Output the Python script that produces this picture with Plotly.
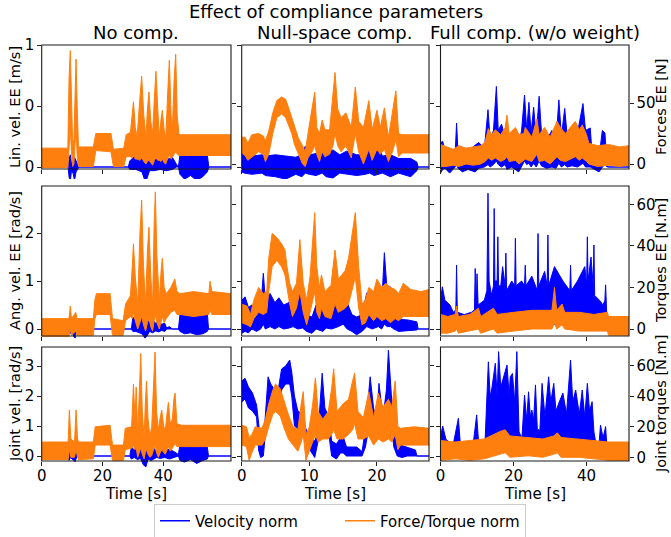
import plotly.graph_objects as go

# ---------------------------------------------------------------------------
# Data.  Every series is drawn as the band
# between a lower and an upper envelope (the signals are very noisy).
# blue  = velocity norm  (left axis),  orange = force/torque norm (right axis)
# ---------------------------------------------------------------------------

# ---- Row 1: Lin. vel. EE [m/s]  /  Forces EE [N] ----
lin_none_vel_t = [0, 8.7, 9.0, 9.4, 9.8, 10.3, 10.8, 11.3, 11.8, 12.2, 28.5, 29.0, 31.0, 33.0, 33.8, 34.3, 34.8, 35.5, 37.0, 39.0, 41.0, 43.0, 44.4, 45.0, 45.5, 47.0, 49.0, 51.0, 53.0, 54.5, 55.0, 62.3]
lin_none_vel_lo = [0, 0, -0.08, -0.12, -0.03, -0.05, -0.11, -0.04, -0.02, 0, 0, -0.02, -0.02, -0.04, -0.1, -0.12, -0.08, -0.03, -0.03, -0.02, -0.03, -0.02, 0, 0, -0.06, -0.1, -0.07, -0.11, -0.08, -0.04, 0, 0]
lin_none_vel_hi = [0, 0, 0.06, 0.1, 0.03, 0.04, 0.08, 0.05, 0.02, 0, 0, 0.05, 0.1, 0.06, 0.13, 0.12, 0.1, 0.07, 0.08, 0.09, 0.06, 0.08, 0.02, 0, 0.1, 0.12, 0.11, 0.12, 0.11, 0.1, 0, 0]
lin_none_frc_t = [0, 8.6, 9.0, 9.4, 9.8, 10.2, 10.6, 11.0, 11.3, 11.7, 12.1, 17.0, 17.8, 22.8, 23.6, 27.0, 27.8, 29.2, 29.8, 30.2, 30.8, 31.4, 32.2, 32.9, 33.6, 34.3, 34.8, 35.3, 35.9, 36.5, 37.1, 37.6, 38.2, 38.7, 39.2, 39.7, 40.3, 40.8, 41.5, 42.0, 42.6, 43.0, 43.6, 44.1, 44.6, 45.2, 62.3]
lin_none_frc_lo = [-3, -3, 8, 30, 10, -2, 0, 15, 30, 5, -2, -2, 11, 10, -2, -2, 6, 6, 5, 8, 4, 4, 3, 5, 2, 0, 2, 3, 1, -1, 3, 5, 3, 3, 2, 4, 1, 0, 4, 8, 4, 6, 8, 10, 8, 7, 7]
lin_none_frc_hi = [13, 13, 70, 93, 55, 14, 20, 70, 86, 45, 14, 14, 25, 25, 12, 13, 24, 26, 42, 51, 30, 22, 50, 72, 40, 22, 45, 59, 35, 25, 55, 76, 45, 22, 35, 44, 28, 20, 60, 85, 40, 28, 70, 90, 40, 24, 24]

lin_null_vel_t = [0.0, 0.4, 1.5, 3.0, 3.5, 5.0, 6.5, 8.0, 8.9, 9.4, 10.0, 11.0, 11.9, 12.5, 13.5, 14.5, 15.5, 17.0, 18.3, 18.9, 19.6, 20.2, 20.8, 22.0, 23.2, 25.0, 25.9, 26.1, 27.7]
lin_null_vel_lo = [-0.04, -0.05, -0.06, -0.05, -0.07, -0.08, -0.1, -0.06, -0.08, -0.05, -0.06, -0.07, -0.05, -0.08, -0.09, -0.05, -0.06, -0.07, -0.06, -0.05, -0.07, -0.06, -0.05, -0.08, -0.05, -0.08, -0.03, 0, 0]
lin_null_vel_hi = [0.15, 0.1, 0.09, 0.1, 0.09, 0.1, 0.09, 0.08, 0.1, 0.17, 0.1, 0.11, 0.18, 0.12, 0.14, 0.1, 0.13, 0.1, 0.1, 0.19, 0.1, 0.19, 0.09, 0.1, 0.07, 0.07, 0.04, 0, 0]
lin_null_frc_t = [0.0, 0.5, 0.9, 1.5, 2.5, 3.2, 3.5, 4.0, 4.6, 5.2, 5.9, 6.5, 7.0, 7.4, 7.8, 8.4, 9.0, 9.4, 9.8, 10.4, 10.8, 11.1, 11.5, 11.9, 12.3, 13.0, 13.5, 13.8, 14.2, 14.7, 15.4, 16.2, 16.8, 17.3, 18.0, 18.8, 19.3, 20.0, 20.5, 21.1, 21.7, 22.3, 22.8, 23.2, 23.7, 27.7]
lin_null_frc_lo = [9, 7, 3, 6, 10, 8, 2, 8, 25, 38, 41, 38, 31, 25, 16, 8, 0, -2, 5, 10, 15, 8, 2, 10, 6, 8, 15, 25, 15, 10, 15, 5, 25, 10, 0, 12, 3, 12, 8, 12, 2, 10, 20, 6, 9, 9]
lin_null_frc_hi = [22, 22, 17, 24, 25, 23, 19, 27, 42, 52, 55, 53, 45, 38, 32, 21, 15, 10, 25, 45, 59, 30, 25, 36, 28, 28, 55, 75, 45, 38, 42, 30, 63, 35, 30, 52, 28, 44, 30, 46, 22, 45, 60, 25, 24, 24]

lin_full_vel_t = [0, 0.6, 1.2, 2.5, 4.0, 4.4, 4.8, 6.0, 7.5, 9.5, 10.5, 12.0, 13.0, 13.6, 14.5, 15.3, 15.8, 16.7, 17.7, 18.2, 19.5, 21.4, 22.2, 23.0, 23.6, 24.2, 24.8, 25.5, 26.2, 27.0, 27.6, 29.0, 30.5, 31.6, 32.4, 33.1, 34.0, 34.7, 36.0, 37.5, 39.0, 39.7, 41.0, 41.5, 43.4, 44.3, 45.0, 45.6, 46.0, 51.6]
lin_full_vel_lo = [-0.05, -0.02, -0.01, -0.05, 0.0, 0.02, -0.01, -0.04, -0.02, -0.04, -0.01, 0.0, 0.02, 0.0, 0.02, 0.05, 0.02, 0.0, 0.02, -0.02, 0.0, -0.04, 0.0, 0.05, 0.02, 0.03, 0.0, 0.03, 0.0, 0.05, 0.01, -0.01, 0.0, -0.01, 0.03, 0.0, 0.02, 0.0, 0.01, 0.0, 0.03, 0.0, 0.0, -0.01, -0.04, 0.0, 0.02, 0, 0, 0]
lin_full_vel_hi = [0.2, 0.21, 0.14, 0.13, 0.1, 0.36, 0.12, 0.16, 0.12, 0.18, 0.2, 0.15, 0.47, 0.22, 0.3, 0.66, 0.3, 0.35, 0.25, 0.2, 0.22, 0.18, 0.3, 0.59, 0.3, 0.53, 0.28, 0.49, 0.25, 0.58, 0.3, 0.22, 0.3, 0.2, 0.55, 0.25, 0.48, 0.25, 0.3, 0.28, 0.52, 0.3, 0.32, 0.1, 0.08, 0.3, 0.28, 0.02, 0, 0]
lin_full_frc_t = [0, 1.5, 3.5, 5.0, 7.0, 9.0, 11.0, 12.2, 13.1, 14.0, 15.0, 16.5, 17.7, 18.2, 18.8, 20.5, 21.5, 22.8, 23.2, 25.0, 26.4, 27.0, 28.5, 30.0, 31.9, 32.8, 34.2, 35.5, 36.9, 38.0, 38.8, 40.0, 40.6, 43.0, 46.0, 49.0, 51.6]
lin_full_frc_lo = [-2, -2, -1, -2, 0, -1, 0, 2, 5, 3, 5, 2, 4, 6, 2, 3, 0, 3, 4, 2, 8, 2, 3, 0, 6, 3, 2, 4, 6, 3, 5, 2, 0, -2, -1, -2, -1]
lin_full_frc_hi = [16, 14, 12, 15, 13, 14, 15, 18, 29, 24, 28, 24, 30, 40, 25, 30, 24, 25, 30, 22, 37, 24, 30, 22, 35, 30, 25, 30, 35, 28, 32, 24, 17, 15, 16, 14, 15]

# ---- Row 2: Ang. vel. EE [rad/s]  /  Torques EE [N.m] ----
ang_none_vel_t = [0, 9.0, 9.3, 9.8, 10.5, 11.0, 11.5, 11.8, 29.5, 30.0, 31.0, 32.0, 33.0, 34.0, 34.6, 35.5, 36.5, 37.5, 38.5, 39.5, 40.5, 41.1, 42.0, 43.0, 45.0, 45.5, 47.0, 49.0, 51.0, 53.0, 54.5, 54.9, 62.3]
ang_none_vel_lo = [0, 0, -0.1, -0.05, -0.15, -0.19, 0, 0, 0, -0.05, -0.05, -0.08, -0.1, -0.19, -0.15, -0.05, -0.08, -0.04, -0.06, -0.03, -0.05, 0, 0, 0, 0, -0.05, -0.1, -0.08, -0.12, -0.1, -0.05, 0, 0]
ang_none_vel_hi = [0, 0, 0.33, 0.1, 0.15, 0.25, 0.05, 0, 0, 0.25, 0.15, 0.2, 0.3, 0.33, 0.2, 0.15, 0.2, 0.12, 0.15, 0.1, 0.12, 0.02, 0.05, 0, 0, 0.3, 0.38, 0.4, 0.38, 0.4, 0.35, 0, 0]
ang_none_frc_t = [0, 9.0, 9.4, 9.8, 11.2, 11.6, 17.0, 17.5, 18.0, 22.5, 23.3, 26.8, 27.6, 29.2, 29.8, 30.2, 30.8, 31.6, 32.3, 32.9, 33.5, 34.2, 34.8, 35.3, 35.9, 36.5, 37.0, 37.4, 37.9, 38.7, 39.3, 39.7, 40.3, 41.0, 42.5, 43.8, 44.5, 45.5, 50.0, 55.0, 55.4, 56.0, 62.3]
ang_none_frc_lo = [-3.5, -3.5, 0, -3, -1, -3, -3, 5, 7, 7, -3, -3, 4, 6, 5, 8, 4, 0, 3, 6, 2, -1, 3, 5, 1, -1, 4, 7, 3, 0, 4, 6, 3, 5, 8, 9, 7, 7, 6, 7, 9, 7, 7]
ang_none_frc_hi = [5, 5, 11, 5, 8, 5, 5, 14, 17, 17, 5, 4, 12, 16, 30, 41, 25, 12, 45, 62, 30, 12, 38, 49, 25, 12, 50, 66, 35, 14, 28, 34, 20, 17, 20, 24, 18, 17, 18, 17, 23, 18, 17]

ang_null_vel_t = [0, 0.5, 1.0, 1.5, 2.2, 2.8, 3.2, 3.5, 4.2, 4.9, 5.5, 6.2, 7.0, 7.6, 8.3, 9.0, 9.6, 10.4, 11.0, 12.0, 12.5, 13.3, 14.3, 15.0, 15.6, 16.3, 17.0, 17.8, 18.5, 19.3, 20.2, 20.7, 21.1, 21.5, 22.0, 22.5, 23.2, 24.5, 25.9, 26.1, 27.7]
ang_null_vel_lo = [-0.09, -0.05, -0.08, 0.0, -0.05, 0.0, 0.1, 0.0, 0.05, 0.0, 0.05, 0.0, 0.02, 0.05, 0.0, 0.02, -0.05, -0.09, 0.0, -0.05, 0.02, 0.0, 0.05, 0.1, 0.0, -0.05, -0.12, -0.05, 0.05, 0.0, 0.05, 0.0, 0.1, 0.05, 0.05, 0.0, -0.05, -0.03, -0.02, 0, 0]
ang_null_vel_hi = [0.6, 0.67, 0.45, 0.5, 0.45, 0.4, 1.16, 0.6, 0.74, 0.55, 0.65, 0.5, 0.55, 0.8, 0.7, 0.75, 0.3, 0.25, 0.5, 0.55, 0.68, 0.5, 0.6, 1.02, 0.55, 0.3, 0.25, 0.3, 0.75, 0.65, 0.8, 0.5, 1.59, 0.8, 0.88, 0.45, 0.2, 0.19, 0.15, 0, 0]
ang_null_frc_t = [0, 0.8, 1.3, 1.8, 2.5, 3.2, 3.7, 4.0, 4.5, 5.2, 5.9, 6.4, 6.7, 7.1, 7.5, 8.1, 8.6, 9.1, 9.6, 10.1, 10.8, 11.1, 11.5, 11.8, 12.3, 13.2, 13.8, 14.3, 15.3, 15.8, 16.8, 17.3, 17.8, 18.3, 18.8, 19.5, 20.0, 20.7, 21.3, 22.0, 22.7, 23.2, 23.9, 25.0, 26.5, 27.7]
ang_null_frc_lo = [3, 2, 1, 5, 8, 7, 8, 18, 30, 33, 30, 26, 20, 12, 6, 10, 18, 8, 2, 8, 18, 8, 5, 10, 6, 5, 12, 8, 10, 12, 25, 10, 2, 3, 7, 4, 6, 4, 5, 3, 5, 4, 6, 6, 6, 6]
ang_null_frc_hi = [12, 11, 7, 14, 20, 17, 18, 34, 46, 44, 41, 38, 30, 22, 18, 22, 43, 22, 14, 25, 56, 30, 20, 26, 18, 21, 38, 24, 28, 34, 56, 30, 12, 14, 20, 18, 24, 20, 22, 20, 19, 17, 22, 19, 18, 19]

ang_full_vel_t = [0, 0.5, 1.2, 2.6, 3.5, 4.2, 4.4, 4.6, 6.5, 8.5, 9.3, 9.5, 9.8, 10.0, 10.3, 12.0, 12.7, 13.0, 13.3, 14.0, 14.5, 14.7, 14.9, 15.5, 15.7, 15.9, 16.5, 17.0, 17.7, 17.9, 18.1, 19.5, 20.3, 20.5, 20.7, 22.2, 23.0, 23.2, 23.4, 25.0, 26.5, 26.7, 26.9, 28.5, 29.2, 29.4, 29.6, 31.2, 33.5, 35.4, 35.6, 35.8, 37.5, 39.5, 40.0, 40.2, 40.4, 41.2, 41.8, 42.0, 42.2, 43.5, 44.5, 45.0, 45.2, 45.4, 45.6, 46.0, 51.6]
ang_full_vel_lo = [0, 0.05, 0, -0.02, -0.05, 0.05, 0.1, 0.05, -0.05, 0, 0.05, 0.1, 0.05, 0.05, 0.0, 0.02, 0.1, 0.2, 0.1, 0.2, 0.2, 0.3, 0.2, 0.2, 0.2, 0.1, 0.1, 0.2, 0.2, 0.3, 0.1, 0.1, 0.1, 0.2, 0.1, 0.1, 0.1, 0.2, 0.1, 0.1, 0.1, 0.2, 0.1, 0.1, 0.1, 0.2, 0.1, 0.1, 0.1, 0.1, 0.2, 0.1, 0.1, 0.1, 0.1, 0.2, 0.1, 0.1, 0.1, 0.2, 0.05, 0.02, 0.02, 0.05, 0.1, 0.05, 0.0, 0, 0]
ang_full_vel_hi = [0.6, 0.88, 0.6, 0.5, 0.35, 0.4, 1.33, 0.35, 0.3, 0.35, 0.4, 1.26, 0.5, 1.15, 0.5, 0.6, 0.8, 2.83, 1.0, 0.7, 0.9, 2.51, 1.0, 1.0, 1.92, 0.9, 0.9, 1.3, 0.9, 1.58, 0.8, 1.0, 0.9, 1.89, 0.9, 1.0, 0.9, 1.33, 0.9, 1.1, 0.8, 1.99, 0.9, 1.2, 0.9, 1.96, 0.9, 1.3, 1.0, 0.8, 1.33, 0.8, 1.0, 1.3, 0.9, 1.92, 1.0, 1.5, 0.9, 1.75, 0.7, 0.6, 0.5, 0.6, 0.92, 0.3, 0.1, 0, 0]
ang_full_frc_t = [0, 2.0, 4.0, 4.4, 4.9, 8.0, 10.4, 11.0, 14.5, 15.5, 20.0, 25.0, 30.5, 31.2, 31.8, 33.3, 34.0, 38.0, 42.0, 45.7, 46.0, 51.6]
ang_full_frc_lo = [-2, -2, -1, 0, -2, -1, 0, -2, 0, -2, -1, 0, 0, 3, 0, 2, 0, -1, -1, -1, -3, -3]
ang_full_frc_hi = [7, 6, 7, 11, 6, 7, 10, 6, 10, 7, 8, 9, 9, 20, 9, 12, 8, 8, 7, 8, 6, 6]

# ---- Row 3: Joint vel. [rad/s]  /  Joint torques [N.m] ----
jnt_none_vel_t = [0, 8.7, 9.0, 9.5, 10.3, 11.0, 11.6, 12.0, 29.0, 29.5, 30.5, 31.5, 32.5, 33.5, 34.3, 35.0, 36.0, 37.0, 37.8, 39.0, 40.5, 42.0, 43.5, 45.0, 45.5, 47.0, 49.0, 51.0, 53.0, 54.5, 54.9, 62.3]
jnt_none_vel_lo = [0, 0, -0.15, -0.05, -0.12, -0.19, 0, 0, 0, -0.1, -0.05, -0.12, -0.08, -0.3, -0.36, -0.1, -0.15, -0.1, -0.05, -0.08, -0.05, -0.1, -0.05, 0, -0.15, -0.2, -0.12, -0.25, -0.15, -0.1, 0, 0]
jnt_none_vel_hi = [0, 0, 0.3, 0.1, 0.15, 0.31, 0.05, 0, 0, 0.3, 0.2, 0.35, 0.25, 0.37, 0.38, 0.2, 0.3, 0.25, 0.15, 0.25, 0.2, 0.22, 0.15, 0.05, 0.38, 0.42, 0.4, 0.42, 0.38, 0.3, 0, 0]
jnt_none_frc_t = [0, 8.7, 9.1, 9.6, 10.8, 11.3, 11.8, 12.1, 17.0, 17.6, 22.5, 23.3, 26.9, 27.5, 29.6, 30.2, 30.7, 31.1, 31.6, 32.2, 32.6, 33.1, 33.7, 34.1, 34.5, 35.0, 35.6, 36.2, 36.8, 37.3, 37.8, 38.4, 39.0, 39.5, 40.2, 40.7, 41.3, 41.7, 42.3, 43.0, 43.5, 43.9, 44.5, 46.0, 62.3]
jnt_none_frc_lo = [-1.5, -1.5, 5, 0, 0, 5, 0, -1.5, -1, 8, 8, -2, -2, 5, 6, 8, 5, 6, 0, 3, 6, 2, -1, 3, 5, 2, 0, 1, 5, 8, 3, 0, 3, 5, 3, 2, 5, 7, 4, 6, 8, 9, 7, 7, 7]
jnt_none_frc_hi = [10, 10, 31, 12, 10, 31, 12, 10, 10, 20, 21, 8, 8, 19, 20, 48, 25, 46, 15, 45, 68, 30, 12, 35, 50, 25, 14, 20, 52, 69, 30, 18, 26, 31, 20, 18, 30, 36, 22, 25, 38, 42, 22, 21, 21]

jnt_null_vel_t = [0, 0.5, 1.0, 1.6, 2.2, 2.5, 2.8, 3.2, 3.5, 3.9, 4.3, 4.9, 5.4, 5.9, 6.5, 7.1, 7.4, 7.8, 8.3, 9.0, 9.5, 10.1, 10.8, 11.3, 11.9, 12.3, 12.9, 13.3, 14.0, 14.6, 15.0, 15.5, 17.0, 17.8, 18.3, 19.0, 19.5, 20.0, 20.3, 20.9, 21.4, 21.7, 22.2, 22.5, 23.0, 23.7, 24.5, 25.7, 25.9, 27.7]
jnt_null_vel_lo = [1.8, 1.9, 1.6, 1.5, 1.3, 0.2, -0.05, 0.0, 0.8, 1.7, 1.7, 1.5, 1.6, 2.2, 2.4, 2.4, 2.0, 1.0, 0.9, 0.9, 0.4, 0.2, -0.05, 0.5, 1.2, 1.0, 0.7, 0.0, -0.1, 0.1, 0.1, 0.0, 0.0, 0.0, 0.3, 1.2, 0.8, 0.6, 1.0, 0.8, 1.0, 1.8, 0.9, 0.3, 0.0, -0.05, 0.0, 0.0, 0, 0]
jnt_null_vel_hi = [2.5, 2.59, 2.3, 2.1, 1.7, 1.0, 0.5, 0.4, 1.5, 2.64, 2.4, 2.2, 2.2, 2.9, 3.0, 3.2, 2.8, 2.0, 1.5, 1.4, 0.9, 0.6, 0.5, 0.8, 2.76, 1.6, 1.3, 0.5, 0.4, 0.6, 0.65, 0.3, 0.3, 0.15, 0.9, 2.64, 1.6, 1.2, 2.42, 1.3, 2.2, 3.53, 1.8, 0.9, 0.4, 0.35, 0.3, 0.2, 0, 0]
jnt_null_frc_t = [0, 0.7, 1.1, 1.5, 2.0, 3.0, 3.5, 4.0, 4.6, 5.0, 5.7, 6.2, 6.9, 7.6, 8.3, 8.8, 9.1, 9.5, 10.0, 10.5, 10.9, 11.3, 12.0, 12.8, 13.3, 13.6, 14.1, 15.0, 15.8, 16.4, 16.7, 17.2, 18.0, 18.8, 19.5, 20.2, 20.9, 21.7, 22.2, 22.7, 23.1, 23.5, 25.5, 27.7]
jnt_null_frc_lo = [8, 7, -2, 3, 8, 8, 12, 20, 28, 30, 27, 20, 12, 8, 4, 10, 15, -2, 5, 10, 15, 10, 12, 12, 15, 18, 12, 12, 15, 18, 22, 12, 12, 14, 8, 12, 10, 12, 10, 15, 5, 8, 8, 8]
jnt_null_frc_hi = [21, 20, 13, 15, 20, 19, 25, 35, 44, 48, 45, 38, 28, 20, 18, 35, 43, 15, 20, 35, 52, 30, 25, 30, 45, 58, 30, 35, 38, 50, 55, 30, 26, 43, 26, 42, 33, 38, 33, 50, 20, 19, 20, 19]

jnt_full_vel_t = [0, 0.6, 1.5, 2.6, 3.5, 4.9, 5.4, 7.0, 9.0, 9.9, 10.4, 12.2, 13.1, 13.6, 14.0, 15.0, 15.5, 15.9, 16.5, 17.2, 18.2, 18.8, 19.1, 19.7, 20.3, 20.9, 21.5, 22.3, 23.0, 23.6, 24.1, 24.6, 25.0, 25.5, 26.0, 26.5, 27.2, 27.8, 28.6, 29.6, 30.2, 31.0, 31.6, 32.5, 33.5, 34.5, 35.6, 36.2, 37.0, 38.0, 38.8, 39.5, 40.2, 40.8, 41.5, 42.0, 42.5, 43.4, 43.8, 44.5, 45.2, 45.6, 46.0, 51.6]
jnt_full_vel_lo = [0.2, 0.3, 0.2, 0.2, 0.3, 0.3, 0.2, 0.2, 0.2, 0.3, 0.2, 0.2, 0.5, 0.5, 0.5, 0.5, 0.5, 0.6, 0.5, 0.5, 0.5, 0.4, 0.5, 0.5, 0.4, 0.6, 0.3, 0.3, 0.4, 0.3, 0.4, 0.3, 0.4, 0.3, 0.4, 0.3, 0.3, 0.4, 0.3, 0.5, 0.4, 0.5, 0.4, 0.4, 0.4, 0.4, 0.5, 0.4, 0.4, 0.3, 0.4, 0.3, 0.4, 0.3, 0.4, 0.3, 0.2, 0.2, 0.3, 0.2, 0.3, 0.0, 0, 0]
jnt_full_vel_hi = [0.64, 1.0, 0.55, 0.45, 0.4, 1.26, 0.45, 0.4, 0.45, 1.37, 0.5, 0.5, 3.14, 2.0, 2.2, 3.09, 2.0, 3.48, 2.3, 2.6, 3.03, 2.0, 2.64, 2.75, 1.8, 3.48, 0.8, 0.6, 2.03, 1.2, 2.14, 1.3, 1.53, 1.2, 2.37, 0.9, 0.85, 2.42, 1.3, 2.64, 1.8, 2.42, 1.5, 1.8, 2.1, 1.4, 3.2, 1.8, 2.2, 1.4, 2.2, 1.3, 2.42, 1.5, 1.81, 0.8, 0.45, 0.4, 1.03, 0.6, 0.98, 0.2, 0, 0]
jnt_full_frc_t = [0, 4, 8, 12, 16.4, 17.7, 19, 24, 28, 31, 32, 33, 38, 42, 46, 51.6]
jnt_full_frc_lo = [-2, -1, -2, -1, 2, 3, 0, 1, 0, 2, 3, 0, 0, -1, -2, -2]
jnt_full_frc_hi = [11, 10, 11, 12, 17, 18, 14, 13, 12, 14, 16, 13, 12, 11, 10, 10]

# ---- texts / ticks ----
FIG_TITLE = "Effect of compliance parameters"
COL_TITLES = ["No comp.", "Null-space comp.", "Full comp. (w/o weight)"]
LEFT_LABELS = ["Lin. vel. EE [m/s]", "Ang. vel. EE [rad/s]", "Joint vel. [rad/s]"]
RIGHT_LABELS = ["Forces EE [N]", "Torques EE [N.m]", "Joint torques [N.m]"]
X_LABEL = "Time [s]"
X_TICKS = [[0, 20, 40], [0, 10, 20], [0, 20, 40]]
X_MAX = [62.3, 27.7, 51.6]
LEFT_TICKS = [[0, 0.5, 1], [0, 1, 2], [0, 1, 2, 3]]
LEFT_TICKTEXT = [["0", "0", "1"], ["0", "1", "2"], ["0", "1", "2", "3"]]
RIGHT_TICKS = [[0, 50], [0, 20, 40, 60], [0, 20, 40, 60]]
LEGEND_NAMES = ["Velocity norm", "Force/Torque norm"]

PANELS = [
    [(lin_none_vel_t, lin_none_vel_lo, lin_none_vel_hi, lin_none_frc_t, lin_none_frc_lo, lin_none_frc_hi),
     (lin_null_vel_t, lin_null_vel_lo, lin_null_vel_hi, lin_null_frc_t, lin_null_frc_lo, lin_null_frc_hi),
     (lin_full_vel_t, lin_full_vel_lo, lin_full_vel_hi, lin_full_frc_t, lin_full_frc_lo, lin_full_frc_hi)],
    [(ang_none_vel_t, ang_none_vel_lo, ang_none_vel_hi, ang_none_frc_t, ang_none_frc_lo, ang_none_frc_hi),
     (ang_null_vel_t, ang_null_vel_lo, ang_null_vel_hi, ang_null_frc_t, ang_null_frc_lo, ang_null_frc_hi),
     (ang_full_vel_t, ang_full_vel_lo, ang_full_vel_hi, ang_full_frc_t, ang_full_frc_lo, ang_full_frc_hi)],
    [(jnt_none_vel_t, jnt_none_vel_lo, jnt_none_vel_hi, jnt_none_frc_t, jnt_none_frc_lo, jnt_none_frc_hi),
     (jnt_null_vel_t, jnt_null_vel_lo, jnt_null_vel_hi, jnt_null_frc_t, jnt_null_frc_lo, jnt_null_frc_hi),
     (jnt_full_vel_t, jnt_full_vel_lo, jnt_full_vel_hi, jnt_full_frc_t, jnt_full_frc_lo, jnt_full_frc_hi)],
]

# ---------------------------------------------------------------------------
# Layout (pixel geometry of the reference)
# ---------------------------------------------------------------------------
W, H = 671, 537
BLUE, ORANGE = "#0000ff", "#ff7f0e"
FONT = "DejaVu Sans"
COLS_PX = [(41.7, 231.0), (241.7, 429.0), (440.5, 629.0)]
ROWS_PX = [(45.0, 169.0), (186.0, 336.0), (347.0, 461.0)]
EXT = 10  # curves may spill a little below each frame, as in the reference
LEFT_CAL = [((0, 167), (1, 45)), ((0, 329), (2, 233)), ((0, 456), (3, 366))]
RIGHT_CAL = [((0, 164), (50, 103)), ((0, 329), (60, 204.3)), ((0, 457.3), (60, 365.7))]


def px_range(cal, top, bot):
    (v0, p0), (v1, p1) = cal
    k = (v1 - v0) / (p0 - p1)
    return [v0 + (p0 - bot) * k, v0 + (p0 - top) * k]


def fx(px):
    return px / W


def fy(py):
    return 1 - py / H


fig = go.Figure()
layout = {}
shapes = []
tickstyle = dict(ticks="outside", ticklen=3.5, tickwidth=1, tickcolor="#222",
                 tickfont=dict(family=FONT, size=15, color="black"), automargin=False,
                 showgrid=False, zeroline=False, showline=False, fixedrange=True)

blue_traces, orange_traces = [], []
for r in range(3):
    top, bot = ROWS_PX[r]
    for c in range(3):
        k = r * 3 + c
        xid = "x" if k == 0 else f"x{k + 1}"
        ylid = "y" if k == 0 else f"y{k + 1}"
        yrid = f"y{k + 10}"
        x0, x1 = COLS_PX[c]
        layout["xaxis" if k == 0 else f"xaxis{k + 1}"] = dict(
            domain=[fx(x0), fx(x1)], anchor="free", position=fy(bot), side="bottom",
            range=[0, X_MAX[c]], tickvals=X_TICKS[c], showticklabels=(r == 2),
            ticklabelstandoff=-3, **tickstyle)
        layout["yaxis" if k == 0 else f"yaxis{k + 1}"] = dict(
            domain=[fy(bot + EXT), fy(top)], anchor=xid, side="left",
            range=px_range(LEFT_CAL[r], top, bot + EXT),
            tickvals=LEFT_TICKS[r], ticktext=LEFT_TICKTEXT[r],
            showticklabels=(c == 0), **tickstyle)
        layout[f"yaxis{k + 10}"] = dict(
            overlaying=ylid, anchor=xid, side="right",
            range=px_range(RIGHT_CAL[r], top, bot + EXT),
            tickvals=RIGHT_TICKS[r], showticklabels=(c == 2), **tickstyle)
        shapes.append(dict(type="rect", xref="paper", yref="paper",
                           x0=fx(x0), x1=fx(x1), y0=fy(bot), y1=fy(top),
                           line=dict(color="#1a1a1a", width=1.1), layer="above"))

        vt, vlo, vhi, ft, flo, fhi = PANELS[r][c]
        assert len(vt) == len(vlo) == len(vhi) and len(ft) == len(flo) == len(fhi)
        blue_traces.append(go.Scatter(
            x=list(vt) + list(vt)[::-1], y=list(vhi) + list(vlo)[::-1],
            fill="toself", fillcolor=BLUE, mode="lines",
            line=dict(color=BLUE, width=1), xaxis=xid, yaxis=ylid,
            showlegend=False, hoverinfo="skip"))
        orange_traces.append(go.Scatter(
            x=list(ft) + list(ft)[::-1], y=list(fhi) + list(flo)[::-1],
            fill="toself", fillcolor=ORANGE, mode="lines",
            line=dict(color=ORANGE, width=1), xaxis=xid, yaxis=yrid,
            showlegend=False, hoverinfo="skip"))

for tr in blue_traces + orange_traces:
    fig.add_trace(tr)

# legend entries
for name, col in zip(LEGEND_NAMES, [BLUE, ORANGE]):
    fig.add_trace(go.Scatter(x=[None], y=[None], mode="lines", name=name,
                             line=dict(color=col, width=1.5), xaxis="x", yaxis="y"))

ann = [dict(text=FIG_TITLE, x=0.5, y=fy(12), font=dict(size=18))]
for c in range(3):
    cx = (COLS_PX[c][0] + COLS_PX[c][1]) / 2
    ann.append(dict(text=COL_TITLES[c], x=fx(cx), y=fy(33), font=dict(size=18)))
    ann.append(dict(text=X_LABEL, x=fx(cx), y=fy(494), font=dict(size=15)))
for r in range(3):
    cy = (ROWS_PX[r][0] + ROWS_PX[r][1]) / 2
    ann.append(dict(text=LEFT_LABELS[r], x=fx(15), y=fy(cy), textangle=-90, font=dict(size=14.5)))
    ann.append(dict(text=RIGHT_LABELS[r], x=fx(661), y=fy(cy), textangle=-90, font=dict(size=14.5)))
for a in ann:
    a.update(xref="paper", yref="paper", showarrow=False, xanchor="center", yanchor="middle")
    a["font"].update(family=FONT, color="black")

fig.update_layout(
    template="none",
    width=W, height=H, autosize=False,
    margin=dict(l=0, r=0, t=0, b=0, autoexpand=False),
    paper_bgcolor="white", plot_bgcolor="white",
    font=dict(family=FONT, color="black"),
    annotations=ann, shapes=shapes,
    legend=dict(orientation="h", x=fx(340), xanchor="center", y=fy(521), yanchor="middle",
                bordercolor="#cccccc", borderwidth=1, bgcolor="white",
                font=dict(family=FONT, size=15, color="black"), itemwidth=30,
                entrywidth=140, entrywidthmode="pixels"),
    **layout,
)

fig.write_html(
    "out.html",
    config={"displayModeBar": False, "staticPlot": True},
    post_script="document.body.style.margin='0';document.body.style.padding='0';"
                "document.documentElement.style.overflow='hidden';",
)
